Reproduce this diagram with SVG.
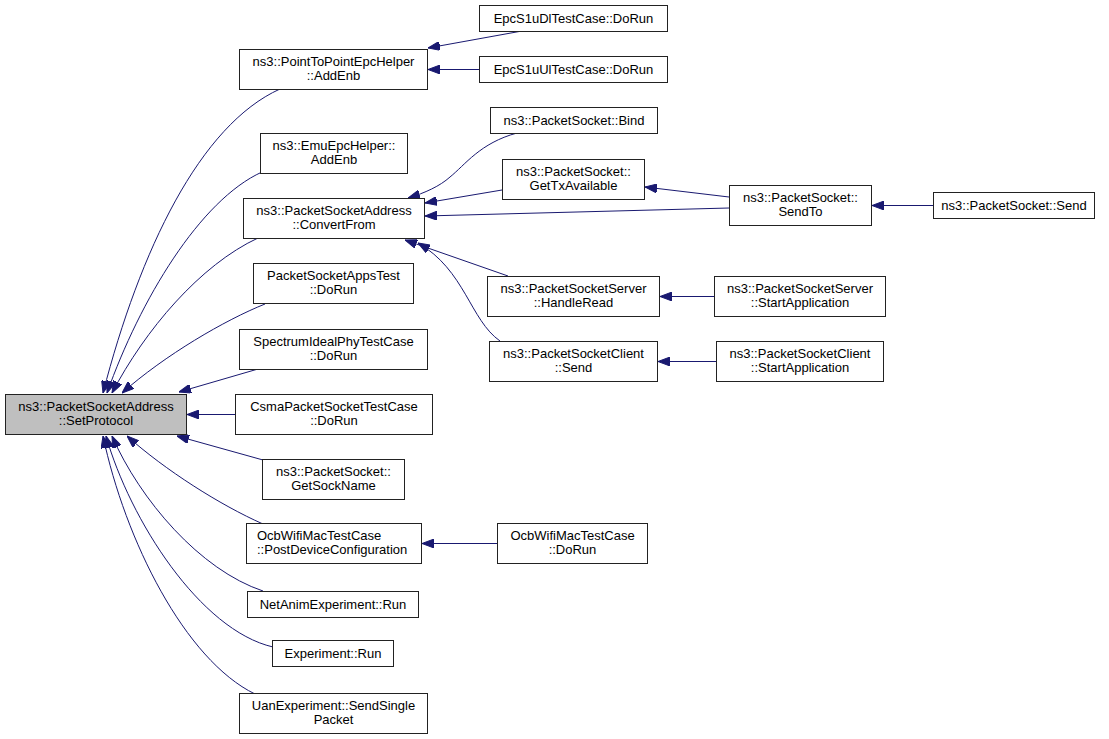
<svg xmlns="http://www.w3.org/2000/svg" width="1109" height="739" viewBox="0 0 1109 739">
<defs>
<marker id="ah" markerUnits="userSpaceOnUse" markerWidth="12" markerHeight="9" viewBox="0 0 12 9" refX="12" refY="4.5" orient="auto">
<path d="M0,0 L12,4.5 L0,9 z" fill="#191970" stroke="#191970" stroke-width="1"/>
</marker>
<style>
.n rect{fill:#ffffff;stroke:#222222;stroke-width:1}
.n.main rect{fill:#bfbfbf}
.n text{font-family:"Liberation Sans",Arial,Helvetica,sans-serif;font-size:13px;fill:#000;text-anchor:middle}
#edges path{fill:none;stroke:#191970;stroke-width:1;marker-end:url(#ah)}
</style>
</defs>
<rect x="0" y="0" width="1109" height="739" fill="#ffffff"/>
<g id="edges">
<path d="M280,89 C200,125 140,250 103,393"/>
<path d="M262,172 C200,200 140,300 107,393"/>
<path d="M258,238 C200,265 145,330 112,393"/>
<path d="M265,304 C225,320 165,355 122,393"/>
<path d="M258,369 L179,392"/>
<path d="M235,414.5 L187,414.5"/>
<path d="M263,460 L177,436"/>
<path d="M263,524 C220,505 165,470 127,436"/>
<path d="M263,591 C200,570 140,500 112,436"/>
<path d="M273,647 C200,630 130,520 106,436"/>
<path d="M255,694 C185,660 125,540 103,436"/>
<path d="M522,31 L428,48"/>
<path d="M479,69.5 L428,69.5"/>
<path d="M517,133 C480,143 465,165 450,177 C440,186 425,193 408,198"/>
<path d="M502,190 L425,203"/>
<path d="M729,208 L425,216"/>
<path d="M729,197 L645,187"/>
<path d="M508,276 L405,240"/>
<path d="M500,341 C470,320 465,270 418,243"/>
<path d="M933,205.5 L872,205.5"/>
<path d="M714,296.5 L660,296.5"/>
<path d="M716,361.5 L658,361.5"/>
<path d="M497,543.5 L422,543.5"/>
</g>
<g id="n_main" class="n main"><rect x="5.5" y="394.5" width="181" height="40"/><text x="96" y="411">ns3::PacketSocketAddress</text><text x="96" y="425">::SetProtocol</text></g>
<g id="n_p2p" class="n"><rect x="239.5" y="49.5" width="188" height="40"/><text x="333.5" y="66">ns3::PointToPointEpcHelper</text><text x="333.5" y="80">::AddEnb</text></g>
<g id="n_emu" class="n"><rect x="260.5" y="133.5" width="147" height="40"/><text x="334" y="150">ns3::EmuEpcHelper::</text><text x="334" y="164">AddEnb</text></g>
<g id="n_convert" class="n"><rect x="243.5" y="198.5" width="181" height="40"/><text x="334" y="215">ns3::PacketSocketAddress</text><text x="334" y="229">::ConvertFrom</text></g>
<g id="n_apps" class="n"><rect x="253.5" y="263.5" width="160" height="40"/><text x="333.5" y="280">PacketSocketAppsTest</text><text x="333.5" y="294">::DoRun</text></g>
<g id="n_spectrum" class="n"><rect x="239.5" y="329.5" width="188" height="40"/><text x="333.5" y="346">SpectrumIdealPhyTestCase</text><text x="333.5" y="360">::DoRun</text></g>
<g id="n_csma" class="n"><rect x="235.5" y="394.5" width="197" height="40"/><text x="334" y="411">CsmaPacketSocketTestCase</text><text x="334" y="425">::DoRun</text></g>
<g id="n_getsock" class="n"><rect x="262.5" y="459.5" width="142" height="40"/><text x="333.5" y="476">ns3::PacketSocket::</text><text x="333.5" y="490">GetSockName</text></g>
<g id="n_ocbpost" class="n"><rect x="246.5" y="523.5" width="175" height="40"/><text x="257" y="540" style="text-anchor:start">OcbWifiMacTestCase</text><text x="257" y="554" style="text-anchor:start">::PostDeviceConfiguration</text></g>
<g id="n_netanim" class="n"><rect x="247.5" y="591.5" width="171" height="26"/><text x="333" y="609">NetAnimExperiment::Run</text></g>
<g id="n_exp" class="n"><rect x="272.5" y="640.5" width="121" height="26"/><text x="333" y="658">Experiment::Run</text></g>
<g id="n_uan" class="n"><rect x="239.5" y="693.5" width="188" height="40"/><text x="333.5" y="710">UanExperiment::SendSingle</text><text x="333.5" y="724">Packet</text></g>
<g id="n_epcdl" class="n"><rect x="479.5" y="5.5" width="188" height="26"/><text x="573.5" y="23">EpcS1uDlTestCase::DoRun</text></g>
<g id="n_epcul" class="n"><rect x="479.5" y="56.5" width="188" height="26"/><text x="573.5" y="74">EpcS1uUlTestCase::DoRun</text></g>
<g id="n_bind" class="n"><rect x="490.5" y="107.5" width="167" height="26"/><text x="574" y="125">ns3::PacketSocket::Bind</text></g>
<g id="n_gettx" class="n"><rect x="502.5" y="159.5" width="142" height="40"/><text x="573.5" y="176">ns3::PacketSocket::</text><text x="573.5" y="190">GetTxAvailable</text></g>
<g id="n_handleread" class="n"><rect x="487.5" y="276.5" width="172" height="40"/><text x="573.5" y="293">ns3::PacketSocketServer</text><text x="573.5" y="307">::HandleRead</text></g>
<g id="n_clientsend" class="n"><rect x="489.5" y="341.5" width="168" height="40"/><text x="573.5" y="358">ns3::PacketSocketClient</text><text x="573.5" y="372">::Send</text></g>
<g id="n_ocbdorun" class="n"><rect x="497.5" y="523.5" width="150" height="40"/><text x="572.5" y="540">OcbWifiMacTestCase</text><text x="572.5" y="554">::DoRun</text></g>
<g id="n_sendto" class="n"><rect x="729.5" y="185.5" width="142" height="40"/><text x="800.5" y="202">ns3::PacketSocket::</text><text x="800.5" y="216">SendTo</text></g>
<g id="n_serverstart" class="n"><rect x="714.5" y="276.5" width="171" height="40"/><text x="800" y="293">ns3::PacketSocketServer</text><text x="800" y="307">::StartApplication</text></g>
<g id="n_clientstart" class="n"><rect x="716.5" y="341.5" width="167" height="40"/><text x="800" y="358">ns3::PacketSocketClient</text><text x="800" y="372">::StartApplication</text></g>
<g id="n_send" class="n"><rect x="933.5" y="192.5" width="161" height="26"/><text x="1014" y="210">ns3::PacketSocket::Send</text></g>
</svg>
